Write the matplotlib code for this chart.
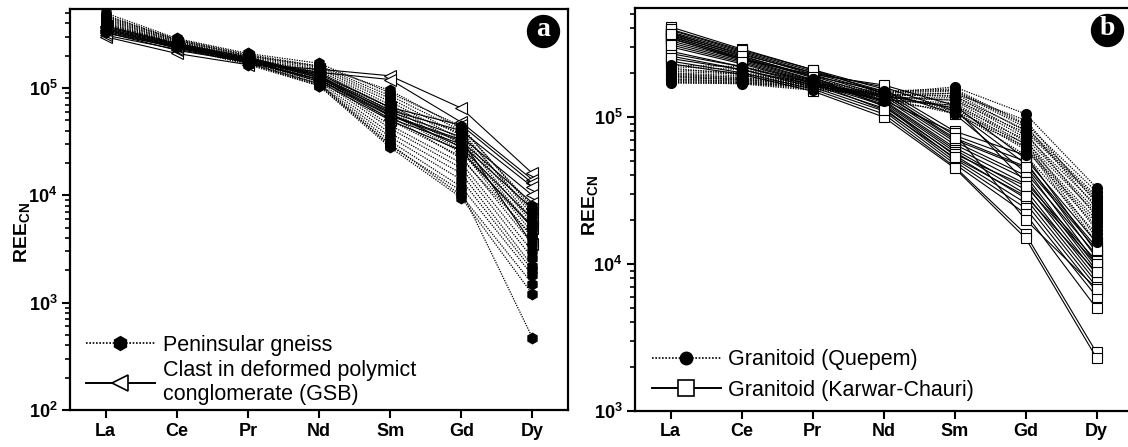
import math
import matplotlib
matplotlib.use('Agg')
from matplotlib import pyplot as plt
from matplotlib.lines import Line2D
from matplotlib.ticker import LogLocator, FuncFormatter, NullFormatter

plt.rcParams['font.family'] = ['Liberation Sans', 'DejaVu Sans']
plt.rcParams['mathtext.fontset'] = 'custom'
plt.rcParams['mathtext.rm'] = 'Liberation Sans'
plt.rcParams['mathtext.bf'] = 'Liberation Sans:bold'
plt.rcParams['mathtext.default'] = 'bf'

elements = ['La', 'Ce', 'Pr', 'Nd', 'Sm', 'Gd', 'Dy']

# Panel a: Peninsular gneiss (dotted, filled hexagons)
gneiss = [
    [5.0e5, 2.9e5, 2.1e5, 1.7e5, 9.0e4, 4.4e4, 7.5e3],
    [4.8e5, 2.8e5, 2.0e5, 1.6e5, 8.5e4, 4.0e4, 6.5e3],
    [4.6e5, 2.8e5, 2.0e5, 1.55e5, 8.0e4, 3.6e4, 6.0e3],
    [4.5e5, 2.75e5, 1.95e5, 1.5e5, 7.5e4, 3.3e4, 5.5e3],
    [4.4e5, 2.7e5, 1.9e5, 1.45e5, 7.0e4, 3.0e4, 5.0e3],
    [4.3e5, 2.7e5, 1.9e5, 1.4e5, 6.6e4, 2.8e4, 4.5e3],
    [4.2e5, 2.65e5, 1.85e5, 1.35e5, 6.2e4, 2.6e4, 4.0e3],
    [4.1e5, 2.6e5, 1.85e5, 1.3e5, 5.0e4, 2.3e4, 3.5e3],
    [4.0e5, 2.6e5, 1.8e5, 1.25e5, 4.5e4, 2.0e4, 3.0e3],
    [3.9e5, 2.55e5, 1.8e5, 1.2e5, 4.2e4, 1.8e4, 2.6e3],
    [3.8e5, 2.5e5, 1.75e5, 1.15e5, 3.8e4, 1.6e4, 2.2e3],
    [3.7e5, 2.5e5, 1.75e5, 1.1e5, 3.5e4, 1.4e4, 2.0e3],
    [3.6e5, 2.45e5, 1.7e5, 1.08e5, 3.2e4, 1.2e4, 1.8e3],
    [3.5e5, 2.4e5, 1.7e5, 1.05e5, 3.0e4, 1.0e4, 1.5e3],
    [3.4e5, 2.4e5, 1.65e5, 1.05e5, 2.8e4, 9.5e3, 1.2e3],
    [3.3e5, 2.45e5, 1.7e5, 1.1e5, 2.9e4, 1.1e4, 4.7e2],
    [4.7e5, 2.85e5, 2.05e5, 1.6e5, 9.5e4, 4.2e4, 8.0e3],
    [3.95e5, 2.6e5, 1.85e5, 1.4e5, 6.5e4, 3.8e4, 7.0e3],
    [3.75e5, 2.55e5, 1.8e5, 1.3e5, 5.8e4, 2.5e4, 5.2e3],
    [3.55e5, 2.5e5, 1.75e5, 1.2e5, 5.5e4, 2.2e4, 4.2e3],
]

# Panel a: clasts in deformed polymict conglomerate (solid, open triangles)
clast = [
    [3.0e5, 2.1e5, 1.65e5, 1.5e5, 1.3e5, 6.5e4, 1.6e4],
    [3.3e5, 2.25e5, 1.75e5, 1.4e5, 1.2e5, 4.8e4, 1.4e4],
    [3.5e5, 2.4e5, 1.85e5, 1.35e5, 6.6e4, 4.5e4, 1.3e4],
    [3.6e5, 2.5e5, 1.9e5, 1.3e5, 6.2e4, 4.0e4, 1.2e4],
    [3.7e5, 2.55e5, 1.9e5, 1.25e5, 6.0e4, 3.5e4, 1.0e4],
    [3.4e5, 2.35e5, 1.8e5, 1.2e5, 5.5e4, 3.2e4, 8.5e3],
    [3.1e5, 2.3e5, 1.75e5, 1.2e5, 5.2e4, 3.0e4, 7.5e3],
    [3.8e5, 2.6e5, 1.95e5, 1.3e5, 5.8e4, 2.8e4, 6.0e3],
    [3.25e5, 2.4e5, 1.8e5, 1.15e5, 5.0e4, 2.6e4, 5.0e3],
    [3.5e5, 2.45e5, 1.85e5, 1.25e5, 5.6e4, 3.3e4, 3.5e3],
]

# Panel b: Granitoid (Quepem) (dotted, filled circles)
quepem = [
    [1.7e5, 1.7e5, 1.55e5, 1.45e5, 1.6e5, 1.05e5, 3.3e4],
    [1.75e5, 1.7e5, 1.6e5, 1.5e5, 1.55e5, 9.0e4, 3.1e4],
    [1.8e5, 1.75e5, 1.6e5, 1.45e5, 1.5e5, 8.5e4, 2.9e4],
    [1.85e5, 1.8e5, 1.65e5, 1.4e5, 1.45e5, 8.0e4, 2.7e4],
    [1.9e5, 1.8e5, 1.65e5, 1.4e5, 1.4e5, 7.5e4, 2.5e4],
    [1.95e5, 1.85e5, 1.7e5, 1.35e5, 1.35e5, 7.2e4, 2.3e4],
    [2.0e5, 1.9e5, 1.7e5, 1.35e5, 1.3e5, 6.8e4, 2.2e4],
    [2.05e5, 1.95e5, 1.75e5, 1.3e5, 1.25e5, 6.5e4, 2.0e4],
    [2.1e5, 2.0e5, 1.75e5, 1.3e5, 1.2e5, 6.2e4, 1.9e4],
    [2.2e5, 2.1e5, 1.8e5, 1.4e5, 1.15e5, 6.0e4, 1.8e4],
    [2.25e5, 2.2e5, 1.8e5, 1.45e5, 1.1e5, 5.5e4, 1.6e4],
    [1.72e5, 1.68e5, 1.52e5, 1.42e5, 1.45e5, 9.5e4, 2.6e4],
    [1.78e5, 1.72e5, 1.58e5, 1.38e5, 1.3e5, 7.8e4, 2.1e4],
    [1.88e5, 1.78e5, 1.62e5, 1.32e5, 1.2e5, 7.0e4, 1.7e4],
    [1.98e5, 1.85e5, 1.68e5, 1.28e5, 1.1e5, 6.6e4, 1.5e4],
    [2.15e5, 1.95e5, 1.72e5, 1.35e5, 1.05e5, 6.3e4, 1.4e4],
    [1.82e5, 1.75e5, 1.6e5, 1.48e5, 1.52e5, 8.8e4, 2.4e4],
    [1.92e5, 1.82e5, 1.66e5, 1.42e5, 1.38e5, 8.2e4, 2.8e4],
]

# Panel b: Granitoid (Karwar-Chauri) (solid, open squares)
karwar = [
    [4.1e5, 2.9e5, 2.1e5, 1.55e5, 8.0e4, 5.5e4, 1.2e4],
    [3.9e5, 2.8e5, 2.05e5, 1.5e5, 7.5e4, 5.0e4, 1.1e4],
    [3.8e5, 2.75e5, 2.0e5, 1.45e5, 7.0e4, 4.5e4, 1.0e4],
    [3.7e5, 2.7e5, 1.95e5, 1.4e5, 6.8e4, 4.0e4, 9.5e3],
    [3.6e5, 2.6e5, 1.9e5, 1.35e5, 6.5e4, 3.8e4, 9.0e3],
    [3.5e5, 2.55e5, 1.85e5, 1.3e5, 6.2e4, 3.5e4, 8.5e3],
    [3.4e5, 2.5e5, 1.8e5, 1.28e5, 6.0e4, 3.2e4, 8.0e3],
    [3.3e5, 2.45e5, 1.78e5, 1.25e5, 5.8e4, 3.0e4, 7.5e3],
    [3.2e5, 2.4e5, 1.75e5, 1.22e5, 5.5e4, 2.8e4, 7.0e3],
    [3.0e5, 2.3e5, 1.7e5, 1.2e5, 5.2e4, 2.6e4, 6.5e3],
    [2.8e5, 2.2e5, 1.65e5, 1.15e5, 5.0e4, 2.4e4, 6.0e3],
    [2.6e5, 2.1e5, 1.6e5, 1.1e5, 4.8e4, 2.2e4, 5.0e3],
    [2.4e5, 2.0e5, 1.55e5, 1.05e5, 4.6e4, 1.6e4, 2.5e3],
    [2.3e5, 1.95e5, 1.5e5, 1.0e5, 4.5e4, 1.5e4, 2.3e3],
    [3.75e5, 2.65e5, 2.0e5, 1.6e5, 1.1e5, 4.8e4, 1.3e4],
    [3.55e5, 2.5e5, 1.9e5, 1.5e5, 1.05e5, 4.2e4, 1.15e4],
    [3.45e5, 2.45e5, 1.95e5, 1.65e5, 1.2e5, 5.2e4, 1.4e4],
    [2.7e5, 2.2e5, 1.7e5, 1.4e5, 1.15e5, 3.6e4, 1.05e4],
    [2.5e5, 2.1e5, 1.65e5, 1.3e5, 7.8e4, 2.0e4, 6.8e3],
    [3.95e5, 2.85e5, 2.1e5, 1.45e5, 7.2e4, 4.6e4, 1.25e4],
    [3.65e5, 2.6e5, 1.88e5, 1.18e5, 5.6e4, 3.4e4, 1.0e4],
    [3.1e5, 2.35e5, 1.72e5, 1.12e5, 5.3e4, 2.9e4, 8.8e3],
]

x = list(range(1, len(elements) + 1))
dots = (0, (1, 1))

fig = plt.figure(figsize=(11.28, 4.47), dpi=100)
ax_a = fig.add_axes([70 / 1128, 37 / 447, 498 / 1128, 401 / 447])
ax_b = fig.add_axes([635 / 1128, 36 / 447, 497 / 1128, 403 / 447])


def pow10(v, pos):
    return r'$10^{%d}$' % round(math.log10(v))


def style(ax, ylim):
    ax.set_yscale('log')
    ax.set_ylim(*ylim)
    ax.set_xlim(0.5, 7.5)
    ax.set_xticks(x)
    ax.set_xticklabels(elements, fontsize=13, fontweight='bold')
    ax.yaxis.set_major_locator(LogLocator(base=10))
    ax.yaxis.set_major_formatter(FuncFormatter(pow10))
    ax.yaxis.set_minor_locator(LogLocator(base=10, subs=range(2, 10)))
    ax.yaxis.set_minor_formatter(NullFormatter())
    ax.tick_params(axis='both', which='major', direction='out', length=6, width=1.5, labelsize=13, pad=3)
    ax.tick_params(axis='y', which='minor', direction='out', length=3.5, width=1.2)
    for s in ax.spines.values():
        s.set_linewidth(1.6)


def panel_label(ax, letter):
    ax.plot(0.95, 0.945, 'o', ms=23, color='black', transform=ax.transAxes, clip_on=False, zorder=10)
    ax.text(0.95, 0.95, letter, transform=ax.transAxes, color='white', fontsize=20, fontweight='bold',
            family='Liberation Serif', ha='center', va='center', zorder=11)


# panel a
for vals in clast:
    ax_a.plot(x, vals, color='black', lw=0.8, ls='-', marker='<', ms=9, mfc='white', mec='black', mew=0.8)
for vals in gneiss:
    ax_a.plot(x, vals, color='black', lw=0.9, ls=dots, marker='h', ms=7.5, mfc='black', mec='black')
style(ax_a, (100, 5.45e5))
panel_label(ax_a, 'a')

h1 = Line2D([], [], color='black', lw=1.2, ls=dots, marker='h', ms=10, mfc='black', mec='black')
h2 = Line2D([], [], color='black', lw=1.4, ls='-', marker='<', ms=11, mfc='white', mec='black', mew=1.2)
ax_a.legend([h1, h2], ['Peninsular gneiss', 'Clast in deformed polymict\nconglomerate (GSB)'],
            loc='lower left', bbox_to_anchor=(0.032, 0.012), frameon=False, fontsize=15.5,
            handlelength=3.2, handletextpad=0.4, labelspacing=0.2, borderpad=0, borderaxespad=0)

# panel b
for vals in karwar:
    ax_b.plot(x, vals, color='black', lw=0.8, ls='-', marker='s', ms=7, mfc='white', mec='black', mew=0.8)
for vals in quepem:
    ax_b.plot(x, vals, color='black', lw=0.9, ls=dots, marker='o', ms=7, mfc='black', mec='black')
style(ax_b, (1000, 5.51e5))
panel_label(ax_b, 'b')

h3 = Line2D([], [], color='black', lw=1.2, ls=dots, marker='o', ms=9, mfc='black', mec='black')
h4 = Line2D([], [], color='black', lw=1.4, ls='-', marker='s', ms=11, mfc='white', mec='black', mew=1.2)
ax_b.legend([h3, h4], ['Granitoid (Quepem)', 'Granitoid (Karwar-Chauri)'],
            loc='lower left', bbox_to_anchor=(0.034, 0.025), frameon=False, fontsize=15.5,
            handlelength=3.2, handletextpad=0.35, labelspacing=0.45, borderpad=0, borderaxespad=0)

fig.text(22 / 1128, 1 - 232 / 447, r'$REE_{CN}$', rotation=90, ha='center', va='center', fontsize=14)
fig.text(590 / 1128, 1 - 205 / 447, r'$REE_{CN}$', rotation=90, ha='center', va='center', fontsize=14)

fig.savefig('out.png', dpi=100)
